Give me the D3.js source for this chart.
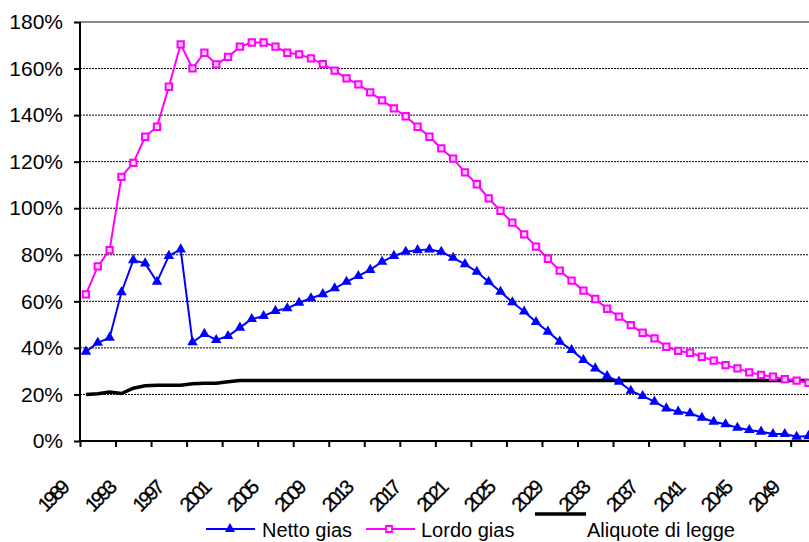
<!DOCTYPE html>
<html><head><meta charset="utf-8">
<script src="https://cdn.jsdelivr.net/npm/d3@7"></script>
<style>html,body{margin:0;padding:0;background:#fff;overflow:hidden}</style>
</head><body><svg id="c" width="809" height="542"></svg>
<script>
const years = [1989,1990,1991,1992,1993,1994,1995,1996,1997,1998,1999,2000,2001,2002,2003,2004,2005,2006,2007,2008,2009,2010,2011,2012,2013,2014,2015,2016,2017,2018,2019,2020,2021,2022,2023,2024,2025,2026,2027,2028,2029,2030,2031,2032,2033,2034,2035,2036,2037,2038,2039,2040,2041,2042,2043,2044,2045,2046,2047,2048,2049,2050];
const tickLabels = ["1989","1993","1997","2001","2005","2009","2013","2017","2021","2025","2029","2033","2037","2041","2045","2049"];
const yTicks = [0,20,40,60,80,100,120,140,160,180];
const netto = [38.4,42.2,44.4,63.9,77.7,76.3,68.4,79.5,82.3,42.4,
  46.0,43.4,45.1,48.7,52.4,53.7,55.9,57.0,59.4,61.3,
  63.1,65.6,68.4,70.9,73.5,77.0,79.5,81.3,82.0,82.3,
  81.3,78.7,76.0,72.7,68.4,64.1,59.6,55.6,51.1,47.0,
  42.7,39.1,34.8,31.2,27.9,25.5,21.6,19.3,16.9,14.0,
  12.6,11.9,10.0,8.3,7.2,5.7,4.7,4.0,3.0,3.0,
  1.8,2.1];
const lordo = [63,75,82,113.5,119.5,130.7,135,152.2,170.4,160.1,
  166.8,161.8,165,169.4,171.2,171.2,169.4,166.8,166.1,164.4,
  161.9,159.1,155.8,153.2,149.8,146.3,142.9,139.5,135.0,130.7,
  125.7,121.3,115.4,110.3,104.2,98.9,93.8,88.8,83.5,78.3,
  73.2,68.9,64.6,61.0,56.8,53.4,49.8,46.5,44.1,40.5,
  38.7,37.9,36.2,34.5,32.6,31.2,29.5,28.4,27.6,26.6,
  25.9,25.0];
const aliquote = [20.0,20.3,21.0,20.4,22.7,23.7,24.0,24.0,24.0,24.6,
  24.8,24.8,25.5,26,26,26,26,26,26,26,
  26,26,26,26,26,26,26,26,26,26,
  26,26,26,26,26,26,26,26,26,26,
  26,26,26,26,26,26,26,26,26,26,
  26,26,26,26,26,26,26,26,26,26,
  26,26];
const seriesNames = ["Netto gias","Lordo gias","Aliquote di legge"];

const svg = d3.select("#c");
const L = 80, T = 22, B = 441, W = 62*11.845;
const x = d3.scaleBand().domain(years).range([L, L+W]).padding(0);
const xb = d3.scaleLinear().domain([0, years.length]).range([L, L+W]);
const y = d3.scaleLinear().domain([0,180]).range([B, T]);
const cx = d => x(d) + x.bandwidth()/2;
const font = "Arial, 'Liberation Sans', sans-serif";

// gridlines
svg.append("g").selectAll("line").data(yTicks.filter(v=>v>0)).join("line")
  .attr("x1", L).attr("x2", 809).attr("y1", d=>y(d)).attr("y2", d=>y(d))
  .attr("stroke", d=> d===180 ? "#8a8a8a" : "#000")
  .attr("stroke-width", d=> d===180 ? 2 : 1)
  .attr("stroke-dasharray", d=> d===180 ? null : "2,1");

// y axis
const ya = svg.append("g").attr("transform", `translate(${L},0)`)
  .call(d3.axisLeft(y).tickValues(yTicks).tickSize(6).tickPadding(11).tickFormat(d=>d+"%"));
ya.select(".domain").attr("stroke","#000").attr("stroke-width",2).attr("d", `M0,${T}V${B}`);
ya.selectAll(".tick line").attr("stroke","#000").attr("stroke-width",2);
ya.selectAll(".tick text").attr("font-family", font).attr("font-size", 21).attr("fill","#000");

// x axis
const xa = svg.append("g").attr("transform", `translate(0,${B})`)
  .call(d3.axisBottom(xb).tickValues(d3.range(0, years.length+1, 3)).tickSize(6).tickFormat(""));
xa.select(".domain").attr("stroke","#000").attr("stroke-width",2).attr("d", `M${L},0H${L+W}`);
xa.selectAll(".tick line").attr("stroke","#000").attr("stroke-width",2);

// x tick labels
svg.append("g").selectAll("text").data(tickLabels).join("text")
  .attr("transform", d => `translate(${cx(+d)-17},490) rotate(-45)`)
  .attr("text-anchor","end")
  .attr("font-family", font).attr("font-size", 20).attr("letter-spacing", "-3px")
  .attr("fill","#000").attr("stroke","#000").attr("stroke-width",0.3).text(d=>d);

const line = d3.line().x((d,i)=>cx(years[i])).y(d=>y(d));

// aliquote
svg.append("path").datum(aliquote).attr("d", line).attr("fill","none")
  .attr("stroke","#000").attr("stroke-width",3.5);
// lordo
svg.append("path").datum(lordo).attr("d", line).attr("fill","none")
  .attr("stroke","#ff00ff").attr("stroke-width",2);
svg.append("g").selectAll("path").data(lordo).join("path")
  .attr("transform",(d,i)=>`translate(${cx(years[i])},${y(d)})`)
  .attr("d", d3.symbol(d3.symbolSquare, 40))
  .attr("fill","#ffd6ff").attr("stroke","#ff00ff").attr("stroke-width",2);
// netto
svg.append("path").datum(netto).attr("d", line).attr("fill","none")
  .attr("stroke","#0000ff").attr("stroke-width",2);
svg.append("g").selectAll("path").data(netto).join("path")
  .attr("transform",(d,i)=>`translate(${cx(years[i])},${y(d)})`)
  .attr("d", d3.symbol(d3.symbolTriangle, 48))
  .attr("fill","#0000ff");

// legend
const lg = svg.append("g");
lg.append("line").attr("x1",206).attr("x2",255).attr("y1",529).attr("y2",529).attr("stroke","#0000ff").attr("stroke-width",2);
lg.append("path").attr("transform","translate(230,529)").attr("d", d3.symbol(d3.symbolTriangle,45)).attr("fill","#0000ff");
lg.append("text").attr("x",262).attr("y",536.5).text(seriesNames[0]);
lg.append("line").attr("x1",366).attr("x2",415).attr("y1",529).attr("y2",529).attr("stroke","#ff00ff").attr("stroke-width",2);
lg.append("path").attr("transform","translate(389,529)").attr("d", d3.symbol(d3.symbolSquare,36)).attr("fill","#fff").attr("stroke","#ff00ff").attr("stroke-width",1.8);
lg.append("text").attr("x",421).attr("y",536.5).text(seriesNames[1]);
lg.append("line").attr("x1",535).attr("x2",586).attr("y1",514).attr("y2",514).attr("stroke","#000").attr("stroke-width",3.5);
lg.append("text").attr("x",587).attr("y",536.5).text(seriesNames[2]);
lg.selectAll("text").attr("font-family", font).attr("font-size",20).attr("fill","#000");
</script></body></html>
